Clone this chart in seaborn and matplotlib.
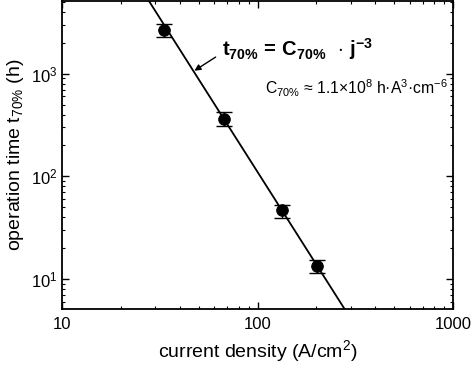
import numpy as np
import pandas as pd
import matplotlib
matplotlib.use("Agg")
import matplotlib.pyplot as plt
import seaborn as sns
from matplotlib.ticker import LogLocator, NullFormatter, LogFormatterMathtext, FixedLocator, FixedFormatter

# data
current_density = [33.4, 67.0, 134.0, 201.0]
t70 = [2690, 363, 46.6, 13.4]
t70_upper = [3055, 426, 52.5, 15.4]
t70_lower = [2260, 311, 39.5, 11.4]
C70 = 1.1e8
fit_j = [20.0, 320.0]
fit_t = [C70 * j ** -3 for j in fit_j]

sns.set_theme(style="white")
plt.rcParams['font.family'] = ['Liberation Sans', 'DejaVu Sans']
plt.rcParams['mathtext.fontset'] = 'custom'
plt.rcParams['mathtext.rm'] = 'Liberation Sans'
plt.rcParams['mathtext.it'] = 'Liberation Sans'
plt.rcParams['mathtext.bf'] = 'Liberation Sans:bold'

fig, ax = plt.subplots(figsize=(4.74, 3.70), dpi=100)
fig.subplots_adjust(left=0.131, right=0.956, top=0.997, bottom=0.165)

df = pd.DataFrame({"j": current_density, "t": t70})
fit_df = pd.DataFrame({"j": fit_j, "t": fit_t})

sns.lineplot(data=fit_df, x="j", y="t", ax=ax, color="black", lw=1.3)
yerr = [np.array(t70) - np.array(t70_lower), np.array(t70_upper) - np.array(t70)]
ax.errorbar(current_density, t70, yerr=yerr, fmt="none", ecolor="black",
            elinewidth=1.0, capsize=5.5, capthick=1.0)
sns.scatterplot(data=df, x="j", y="t", ax=ax, color="black", s=70,
                edgecolor="black", zorder=5)

ax.set_xscale("log")
ax.set_yscale("log")
ax.set_xlim(10, 1000)
ax.set_ylim(5.1, 5100)

ax.xaxis.set_major_locator(FixedLocator([10, 100, 1000]))
ax.xaxis.set_major_formatter(FixedFormatter(["10", "100", "1000"]))
ax.xaxis.set_minor_locator(LogLocator(base=10, subs=np.arange(2, 10)))
ax.xaxis.set_minor_formatter(NullFormatter())
ax.yaxis.set_major_locator(FixedLocator([10, 100, 1000]))
ax.yaxis.set_major_formatter(LogFormatterMathtext())
ax.yaxis.set_minor_locator(LogLocator(base=10, subs=np.arange(2, 10)))
ax.yaxis.set_minor_formatter(NullFormatter())

ax.tick_params(which="both", direction="in", top=True, right=True, bottom=True, left=True,
               colors="black", labelsize=12)
ax.tick_params(which="major", length=5, width=1)
ax.tick_params(which="minor", length=2.5, width=0.8)
ax.tick_params(axis="x", pad=6)

for sp in ax.spines.values():
    sp.set_color("black")
    sp.set_linewidth(1.3)

ax.set_xlabel("current density (A/cm$^2$)", fontsize=14, color="black", labelpad=4)
ax.set_ylabel("operation time t$_{70\\%}$ (h)", fontsize=14, color="black", labelpad=3)

ax.annotate(r"$\mathbf{t_{70\%}\,=\,C_{70\%}\;\;\cdot\,j^{-3}}$",
            xy=(47.5, 1070), xycoords="data",
            xytext=(0.41, 0.845), textcoords="axes fraction",
            fontsize=14.5, color="black", va="center", ha="left",
            arrowprops=dict(arrowstyle="-|>", color="black", lw=1.0,
                            relpos=(0, 0.35), shrinkA=3, shrinkB=0, mutation_scale=9))
ax.text(0.52, 0.717, r"C$_{70\%}$ ≈ 1.1×10$^8$ h·A$^3$·cm$^{-6}$", transform=ax.transAxes,
        fontsize=11.3, color="black", va="center", ha="left")

fig.savefig("out.png", dpi=100)
